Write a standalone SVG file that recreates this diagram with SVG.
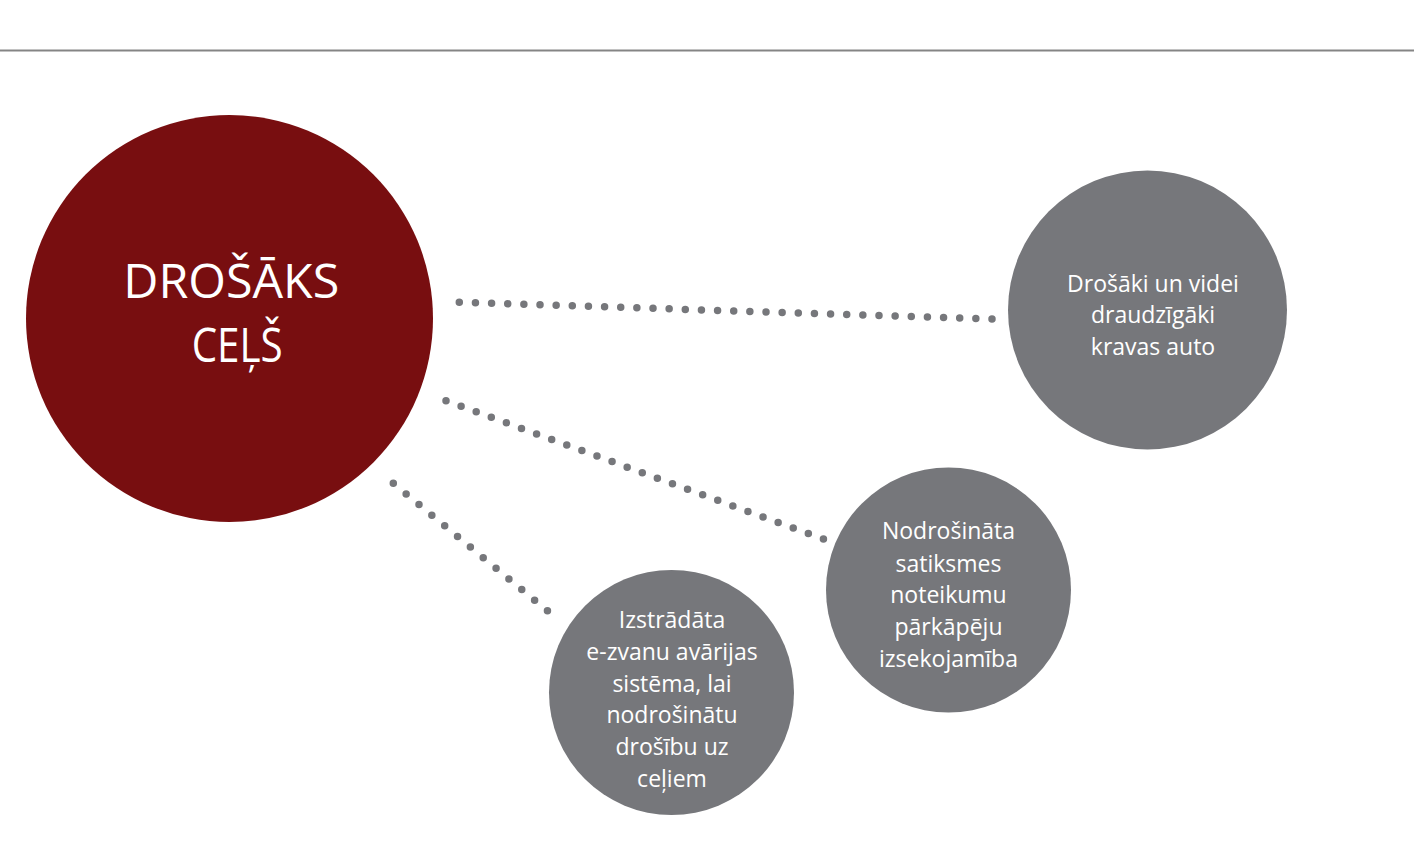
<svg xmlns="http://www.w3.org/2000/svg" width="1414" height="861" viewBox="0 0 1414 861">
<style>
.bg{fill:#ffffff}
.rule{stroke:#858585;stroke-width:2;fill:none}
.main{fill:#780e10}
.sub{fill:#76777b}
.dots{stroke:#76777b;stroke-width:7.5;stroke-linecap:round;fill:none}
.t{font-family:"Open Sans","Noto Sans","DejaVu Sans",sans-serif;fill:#ffffff;text-anchor:middle}
.big{font-size:47px}
.small{font-size:23px}
</style>
<rect class="bg" x="0" y="0" width="1414" height="861"/>
<line class="rule" x1="0" y1="50.5" x2="1414" y2="50.5"/>
<g id="connectors">
<line class="dots" x1="459.3" y1="302.3" x2="992.7" y2="319" stroke-dasharray="0 16.15"/>
<line class="dots" x1="446" y1="400.7" x2="824" y2="539.3" stroke-dasharray="0 16.08"/>
<line class="dots" x1="393.3" y1="483.3" x2="547.7" y2="611" stroke-dasharray="0 16.67"/>
</g>
<g id="node-main">
<circle class="main" cx="229.5" cy="318.5" r="203.5"/>
<text class="t big" x="231.3" y="298" textLength="216" lengthAdjust="spacingAndGlyphs">DROŠĀKS</text>
<text class="t big" x="237.2" y="361.5" textLength="91" lengthAdjust="spacingAndGlyphs">CEĻŠ</text>
</g>
<g id="node-trucks">
<circle class="sub" cx="1147.5" cy="310" r="139.5"/>
<text class="t small" x="1153" y="291.5">Drošāki un videi</text>
<text class="t small" x="1153" y="323">draudzīgāki</text>
<text class="t small" x="1153" y="355">kravas auto</text>
</g>
<g id="node-violations">
<circle class="sub" cx="948.5" cy="590" r="122.5"/>
<text class="t small" x="948.5" y="539.3">Nodrošināta</text>
<text class="t small" x="948.5" y="571.5">satiksmes</text>
<text class="t small" x="948.5" y="603.3">noteikumu</text>
<text class="t small" x="948.5" y="635">pārkāpēju</text>
<text class="t small" x="948.5" y="666.7">izsekojamība</text>
</g>
<g id="node-ecall">
<circle class="sub" cx="671.5" cy="692.5" r="122.5"/>
<text class="t small" x="672" y="628.3">Izstrādāta</text>
<text class="t small" x="672" y="660">e-zvanu avārijas</text>
<text class="t small" x="672" y="691.7">sistēma, lai</text>
<text class="t small" x="672" y="723.3">nodrošinātu</text>
<text class="t small" x="672" y="755">drošību uz</text>
<text class="t small" x="672" y="786.7">ceļiem</text>
</g>
</svg>
